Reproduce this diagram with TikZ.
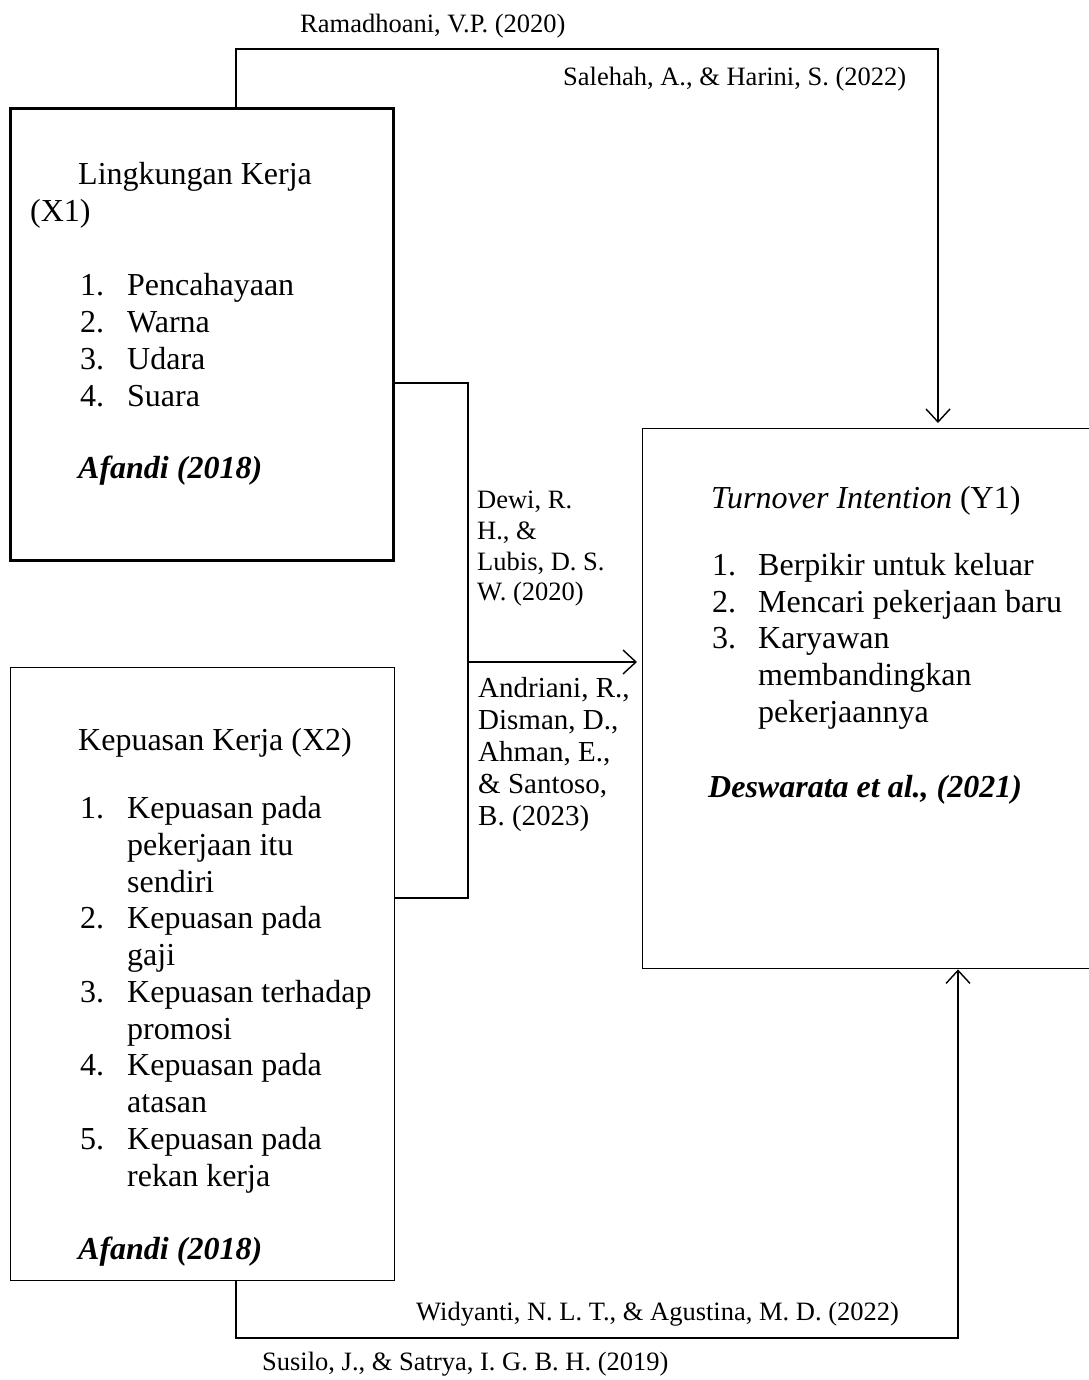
\documentclass[tikz,border=0pt]{standalone}
\usepackage{fontspec}
\setmainfont{Liberation Serif}
\usetikzlibrary{arrows.meta}
\begin{document}
\begin{tikzpicture}[x=1pt,y=-1pt,
  txt/.style={anchor=base west,inner sep=0pt,font=\fontsize{32}{37}\selectfont},
  cite/.style={anchor=base west,inner sep=0pt,font=\fontsize{26.5}{30}\selectfont},
  citeb/.style={anchor=base west,inner sep=0pt,font=\fontsize{29}{32}\selectfont},
  box/.style={draw,line width=1.4pt,inner sep=0pt,anchor=north west},
  conn/.style={draw,line width=1.4pt},
  arr/.style={-{Straight Barb[length=13pt,width=24pt,line width=1.4pt]}}
]
\useasboundingbox (0,0) rectangle (1088,1380);

% boxes
\node[box,line width=2.8pt,minimum width=383pt,minimum height=452pt] (x1) at (9,107) {};
\node[box,minimum width=384pt,minimum height=613pt] (x2) at (10,667) {};
\node[box,minimum width=592pt,minimum height=540pt] (y1) at (642,428) {};

% X1 texts
\node[txt] (a1) at (78,185) {Lingkungan Kerja};
\node[txt] (a2) at (30,222) {(X1)};
\node[txt] (a3n) at (80,295) {1.};
\node[txt] (a3) at (127,295) {Pencahayaan};
\node[txt] (a4n) at (80,332) {2.};
\node[txt] (a4) at (127,332) {Warna};
\node[txt] (a5n) at (80,369) {3.};
\node[txt] (a5) at (127,369) {Udara};
\node[txt] (a6n) at (80,406) {4.};
\node[txt] (a6) at (127,406) {Suara};
\node[txt] (a7) at (78,478) {\textbf{\textit{Afandi (2018)}}};

% X2 texts
\node[txt] (b1) at (78,750) {Kepuasan Kerja (X2)};
\node[txt] (b2n) at (80,818) {1.};
\node[txt] (b2) at (127,818) {Kepuasan pada};
\node[txt] (b3) at (127,855) {pekerjaan itu};
\node[txt] (b4) at (127,892) {sendiri};
\node[txt] (b5n) at (80,928) {2.};
\node[txt] (b5) at (127,928) {Kepuasan pada};
\node[txt] (b6) at (127,965) {gaji};
\node[txt] (b7n) at (80,1002) {3.};
\node[txt] (b7) at (127,1002) {Kepuasan terhadap};
\node[txt] (b8) at (127,1039) {promosi};
\node[txt] (b9n) at (80,1075) {4.};
\node[txt] (b9) at (127,1075) {Kepuasan pada};
\node[txt] (b10) at (127,1112) {atasan};
\node[txt] (b11n) at (80,1149) {5.};
\node[txt] (b11) at (127,1149) {Kepuasan pada};
\node[txt] (b12) at (127,1186) {rekan kerja};
\node[txt] (b13) at (78,1259) {\textbf{\textit{Afandi (2018)}}};

% Y1 texts
\node[txt] (c1) at (711,508) {\textit{Turnover Intention} (Y1)};
\node[txt] (c2n) at (712,575) {1.};
\node[txt] (c2) at (758,575) {Berpikir untuk keluar};
\node[txt] (c3n) at (712,612) {2.};
\node[txt] (c3) at (758,612) {Mencari pekerjaan baru};
\node[txt] (c4n) at (712,648) {3.};
\node[txt] (c4) at (758,648) {Karyawan};
\node[txt] (c5) at (758,685) {membandingkan};
\node[txt] (c6) at (758,722) {pekerjaannya};
\node[txt] (c7) at (708,797) {\textbf{\textit{Deswarata et al., (2021)}}};

% connector coordinates
\coordinate (tl) at (236,49);
\coordinate (tr) at (938,49);
\coordinate (mu) at (468,383);
\coordinate (md) at (468,898);
\coordinate (mm) at (468,662);
\coordinate (bl) at (236,1338);
\coordinate (br) at (958,1338);

% top connector
\draw[conn,arr] (tl |- x1.north) -- (tl) -- (tr) -- ([yshift=5pt]tr |- y1.north);
% middle connector
\draw[conn] (x1.east |- mu) -- (mu) -- (md) -- (x2.east |- md);
\draw[conn,arr] (mm) -- ([xshift=-5pt]y1.west |- mm);
% bottom connector
\draw[conn,arr] (bl |- x2.south) -- (bl) -- (br) -- (br |- y1.south);

% citation labels
\node[cite] (r1) at (300,33) {Ramadhoani, V.P. (2020)};
\node[cite] (r2) at (563,86) {Salehah, A., \& Harini, S. (2022)};
\node[cite] (r3) at (477,508) {Dewi, R.};
\node[cite] (r4) at (477,539) {H., \&};
\node[cite] (r5) at (477,570) {Lubis, D. S.};
\node[cite] (r6) at (477,600) {W. (2020)};
\node[citeb] (r7) at (478,697) {Andriani, R.,};
\node[citeb] (r8) at (478,729) {Disman, D.,};
\node[citeb] (r9) at (478,761) {Ahman, E.,};
\node[citeb] (r10) at (478,793) {\& Santoso,};
\node[citeb] (r11) at (478,825) {B. (2023)};
\node[cite] (r12) at (416,1320) {Widyanti, N. L. T., \& Agustina, M. D. (2022)};
\node[cite] (r13) at (262,1370) {Susilo, J., \& Satrya, I. G. B. H. (2019)};
\end{tikzpicture}
\end{document}
